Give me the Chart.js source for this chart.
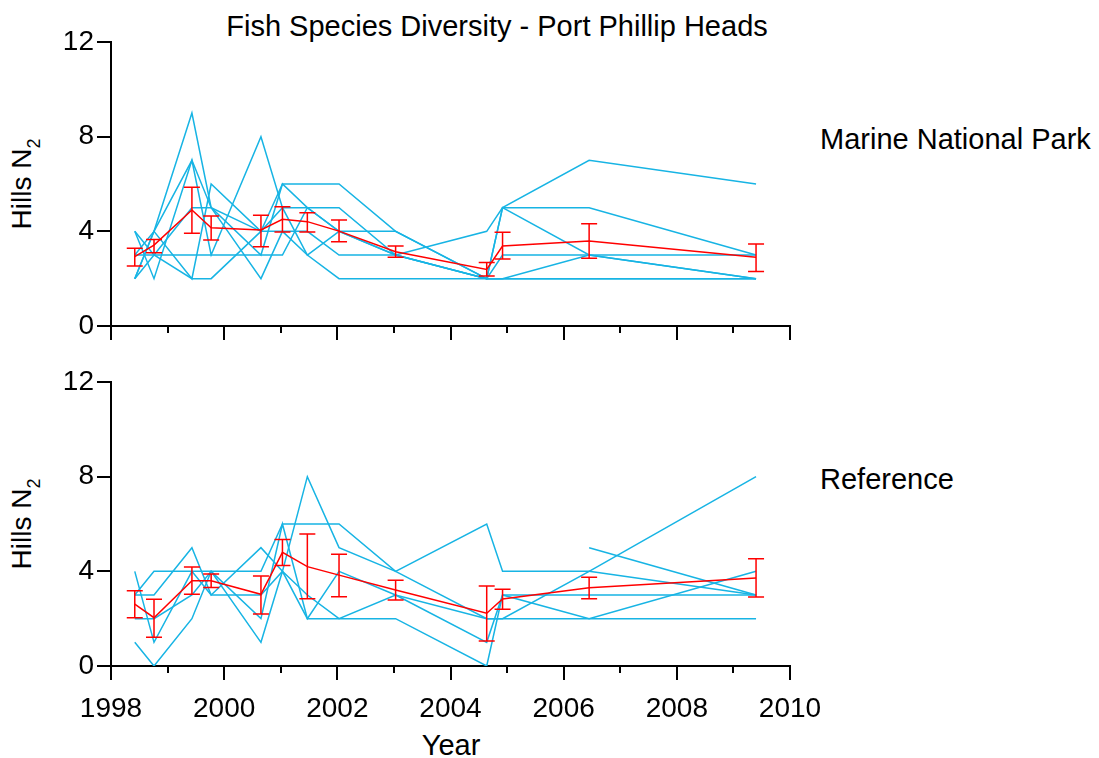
<!DOCTYPE html>
<html>
<head>
<meta charset="utf-8">
<script src="https://cdn.jsdelivr.net/npm/chart.js@4.4.0/dist/chart.umd.min.js"></script>
<style>
body { margin:0; background:#fff; width:1099px; height:758px; position:relative; overflow:hidden; font-family:"Liberation Sans", Arial, sans-serif; }
canvas { position:absolute; left:0; }
.txt { position:absolute; font-size:29px; line-height:29px; white-space:nowrap; color:#000; }
.ytitle { font-size:28px; line-height:28px; transform: translate(-50%, -50%) rotate(-90deg); }
.sub { font-size:18px; position:relative; top:9px; }
</style>
</head>
<body>
<div class="txt" style="left:497px; top:12px; transform:translateX(-50%);">Fish Species Diversity - Port Phillip Heads</div>
<div class="txt" style="left:820px; top:125px;">Marine National Park</div>
<div class="txt" style="left:820px; top:465px;">Reference</div>
<div class="txt" style="left:451px; top:731px; transform:translateX(-50%);">Year</div>
<div class="txt ytitle" style="left:23px; top:184px;">Hills N<span class="sub">2</span></div>
<div class="txt ytitle" style="left:23px; top:524px;">Hills N<span class="sub">2</span></div>
<canvas id="topChart" width="1099" height="360" style="top:0px"></canvas>
<canvas id="bottomChart" width="1099" height="398" style="top:360px"></canvas>
<script>
// sampling times (decimal years)
const sampleYears = [1998.42, 1998.76, 1999.43, 1999.77, 2000.65, 2001.03, 2001.47, 2002.03, 2003.03, 2004.64, 2004.92, 2006.45, 2009.40];

// Marine National Park sites
const mnpSite1 = [3, 3, 3, 3, 3, 3, 5, 5, 3, 2, 2, 2, 2];
const mnpSite2 = [2, 4, 9, 5, 4, 6, 6, 6, 4, 2, 5, 3, 3];
const mnpSite3 = [2, 4, 7, 5, 3, 6, 5, 4, 4, 2, 5, 5, 3];
const mnpSite4 = [4, 2, 7, 3, 8, 5, 3, 4, 3, 4, 5, 7, 6];
const mnpSite5 = [2, 3, 5, 5, 2, 4, 4, 3, 3, 2, 2, 3, 2];
const mnpSite6 = [4, 3, 2, 2, 4, 4, 3, 2, 2, 2, 2, 2, 2];
const mnpSite7 = [3, 4, 2, 6, 4, 5, 5, 4, 3, 2, 3, 3, 2];
const mnpMean = [2.93, 3.42, 4.90, 4.15, 4.06, 4.51, 4.41, 4.01, 3.14, 2.39, 3.38, 3.59, 2.90];
const mnpLow  = [2.53, 3.10, 3.92, 3.63, 3.35, 3.97, 3.97, 3.56, 2.90, 2.11, 2.83, 2.86, 2.30];
const mnpHigh = [3.28, 3.66, 5.86, 4.65, 4.68, 5.04, 4.79, 4.48, 3.38, 2.68, 3.96, 4.32, 3.46];

// Reference sites
const refSite1 = [4, 1, 4, 3, 3, 4, 8, 5, 4, 2, 2, 4, 8];
const refSite2 = [3, 3, 5, 3, 5, 4, 3, 2, 3, 2, 2, 2, 2];
const refSite3 = [3, 4, 4, 4, 4, 6, 6, 6, 4, 6, 4, 4, 3];
const refSite4 = [1, 0, 2, 4, 1, 4, 2, 4, 3, 1, 3, 2, 4];
const refSite5 = [2, 2, 3, 4, 2, 6, 2, 2, 2, 0, 3, 3, 3];
const refSite6 = [null, null, null, null, null, null, null, null, null, null, null, 5, 3];
const refMean = [2.61, 2.04, 3.60, 3.60, 3.03, 4.80, 4.20, 3.84, 3.21, 2.23, 2.83, 3.31, 3.72];
const refLow  = [2.04, 1.21, 3.03, 3.32, 2.20, 4.25, 2.84, 2.93, 2.79, 1.06, 2.40, 2.84, 2.92];
const refHigh = [3.18, 2.82, 4.18, 3.89, 3.80, 5.35, 5.58, 4.72, 3.62, 3.38, 3.24, 3.75, 4.53];

const xTicks = [1998, 2000, 2002, 2004, 2006, 2008, 2010];
const xMinorTicks = [1999, 2001, 2003, 2005, 2007, 2009];
const yTicks = [0, 4, 8, 12];

const siteColor = 'rgb(23, 180, 228)';
const meanColor = 'rgb(255, 0, 0)';
const fontSpec = { family: '"Liberation Sans", Arial, sans-serif', size: 28 };

function toPoints(values) {
    return sampleYears.map((x, i) => ({ x: x, y: values[i] }));
}

// error bars on the mean line
const errorBarPlugin = {
    id: 'errorBars',
    afterDatasetsDraw(chart, args, opts) {
        const ctx = chart.ctx;
        const xs = chart.scales.x, ys = chart.scales.y;
        ctx.save();
        ctx.strokeStyle = meanColor;
        ctx.lineWidth = 1.5;
        opts.low.forEach((lo, i) => {
            const x = xs.getPixelForValue(sampleYears[i]);
            const y1 = ys.getPixelForValue(lo);
            const y2 = ys.getPixelForValue(opts.high[i]);
            ctx.beginPath();
            ctx.moveTo(x, y1); ctx.lineTo(x, y2);
            ctx.moveTo(x - 8, y1); ctx.lineTo(x + 8, y1);
            ctx.moveTo(x - 8, y2); ctx.lineTo(x + 8, y2);
            ctx.stroke();
        });
        ctx.restore();
    }
};

// short ticks on odd years
const minorTickPlugin = {
    id: 'minorTicks',
    afterDraw(chart) {
        const ctx = chart.ctx;
        const xs = chart.scales.x;
        const y0 = chart.chartArea.bottom;
        ctx.save();
        ctx.strokeStyle = '#000';
        ctx.lineWidth = 2;
        xMinorTicks.forEach(v => {
            const x = Math.round(xs.getPixelForValue(v));
            ctx.beginPath();
            ctx.moveTo(x, y0); ctx.lineTo(x, y0 + 7);
            ctx.stroke();
        });
        ctx.restore();
    }
};

function makePanel(canvasId, sites, mean, low, high, showXLabels, padTop, xHeight) {
    const datasets = [{
        data: toPoints(mean),
        borderColor: meanColor,
        borderWidth: 1.5,
        pointRadius: 0,
        tension: 0
    }];
    sites.forEach(s => {
        datasets.push({
            data: toPoints(s),
            borderColor: siteColor,
            borderWidth: 1.5,
            pointRadius: 0,
            tension: 0,
            spanGaps: false
        });
    });

    return new Chart(document.getElementById(canvasId), {
        type: 'line',
        data: { datasets: datasets },
        plugins: [errorBarPlugin, minorTickPlugin],
        options: {
            responsive: false,
            animation: false,
            layout: { padding: { left: 0, right: 309, top: padTop, bottom: 0 } },
            plugins: {
                legend: { display: false },
                tooltip: { enabled: false },
                errorBars: { low: low, high: high }
            },
            scales: {
                x: {
                    type: 'linear',
                    min: 1998,
                    max: 2010,
                    afterBuildTicks: s => { s.ticks = xTicks.map(v => ({ value: v })); },
                    afterFit: s => { s.height = xHeight; },
                    grid: { drawOnChartArea: false, drawTicks: true, tickLength: 14, color: '#000', lineWidth: 2 },
                    border: { display: true, color: '#000', width: 2 },
                    ticks: {
                        display: showXLabels,
                        color: '#000',
                        font: fontSpec,
                        padding: 12,
                        maxRotation: 0,
                        callback: v => String(v)
                    }
                },
                y: {
                    min: 0,
                    max: 12,
                    afterBuildTicks: s => { s.ticks = yTicks.map(v => ({ value: v })); },
                    afterFit: s => { s.width = 111; },
                    grid: { drawOnChartArea: false, drawTicks: true, tickLength: 14, color: '#000', lineWidth: 2 },
                    border: { display: true, color: '#000', width: 2 },
                    ticks: { color: '#000', font: fontSpec, padding: 3 }
                }
            }
        }
    });
}

// top panel: chart area 42..326, bottom panel: 382..666 (page coords)
makePanel('topChart',
    [mnpSite1, mnpSite2, mnpSite3, mnpSite4, mnpSite5, mnpSite6, mnpSite7],
    mnpMean, mnpLow, mnpHigh, false, 42, 34);
makePanel('bottomChart',
    [refSite1, refSite2, refSite3, refSite4, refSite5, refSite6],
    refMean, refLow, refHigh, true, 22, 92);
</script>
</body>
</html>
